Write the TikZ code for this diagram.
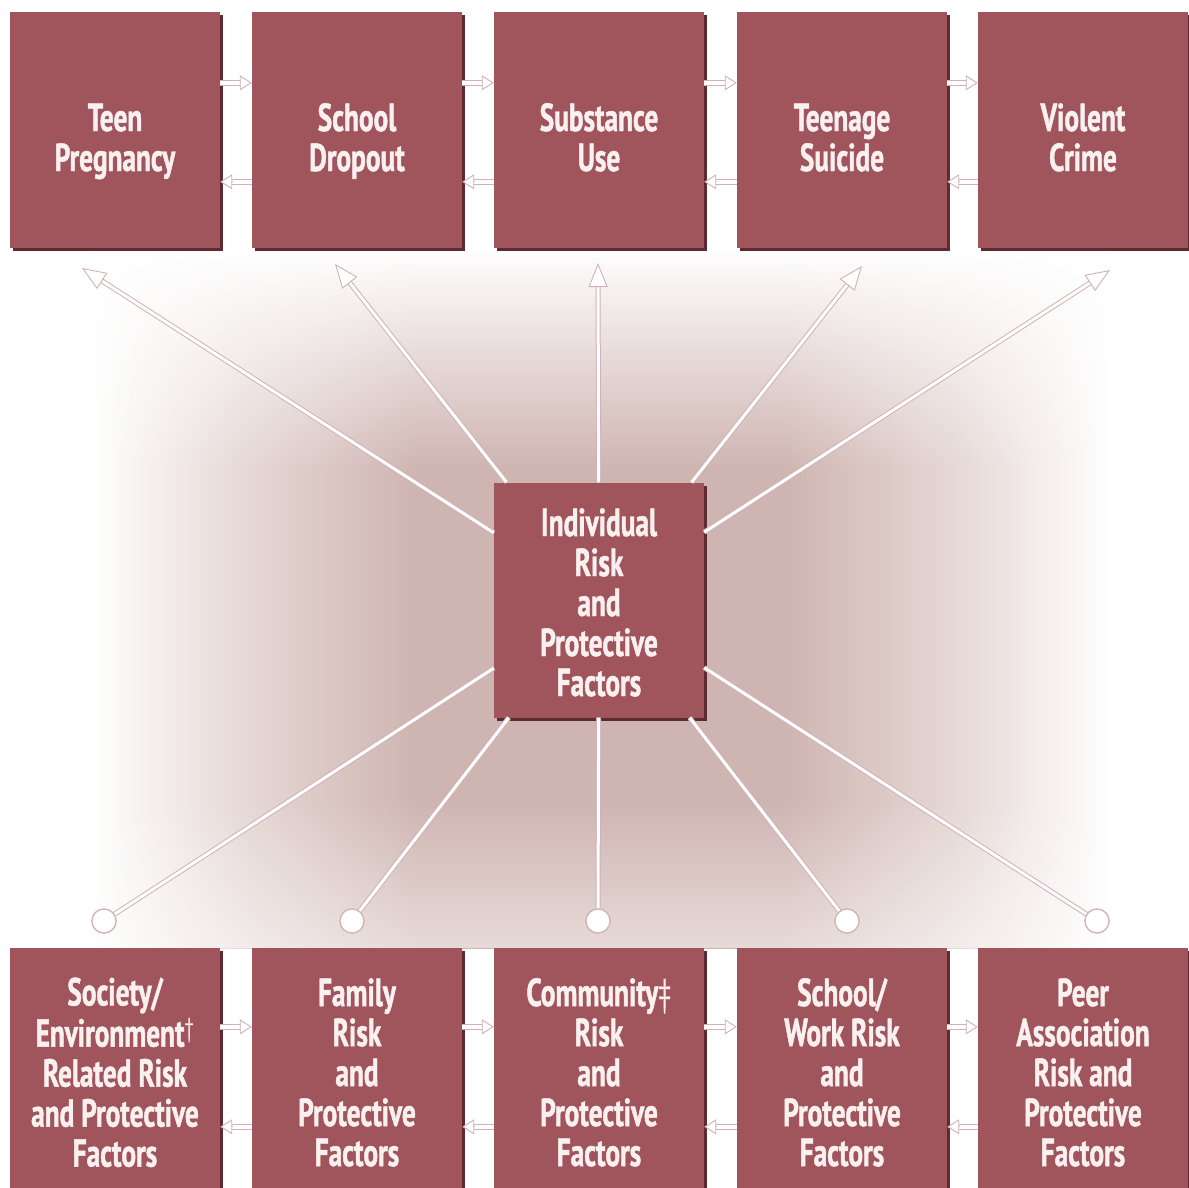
\documentclass[tikz,border=0pt]{standalone}
\usepackage{fontspec}
\newfontfamily\boxfont[FakeStretch=0.70, BoldFeatures={FakeBold=1.2}]{PT Sans}
\usetikzlibrary{arrows.meta,calc,shadows,fadings}
\definecolor{boxc}{RGB}{160,84,92}
\definecolor{shadc}{RGB}{92,42,48}
\definecolor{txtc}{RGB}{250,240,240}
\definecolor{edgec}{RGB}{208,178,182}
\definecolor{glowc}{RGB}{207,181,177}
\definecolor{glowm}{RGB}{229,215,212}
\pgfdeclarehorizontalshading{hglow}{100bp}{color(0bp)=(white); color(28.8bp)=(white); color(35.5bp)=(glowm); color(42.5bp)=(glowc); color(58bp)=(glowc); color(65bp)=(glowm); color(71.7bp)=(white); color(100bp)=(white)}
\newcommand{\warrow}[5]{%
  \draw[wline, shorten >=#5] #1 -- #2;
  \draw[edgec, line width=0.9pt, -{Triangle[length=#3, width=#4, fill=white]}] ($#2!#3!#1$) -- #2;
}
\begin{document}
\begin{tikzpicture}[x=1pt,y=-1pt,
  box/.style={rectangle, fill=boxc, minimum width=210pt, inner sep=0pt,
    general shadow={fill=shadc, shadow xshift=3pt, shadow yshift=-3pt}},
  lbl/.style={inner sep=0pt, text=txtc, align=center,
    font=\boxfont\bfseries\fontsize{39}{40}\selectfont},
  topbox/.style={box, minimum height=236pt},
  botbox/.style={box, minimum height=240pt},
  wline/.style={white, line width=3pt, preaction={draw=edgec, line width=5pt}},
  sline/.style={white, line width=4pt, preaction={draw=edgec, line width=6pt}},
  dot/.style={circle, draw=edgec, fill=white, line width=1.2pt, minimum size=24pt, inner sep=0pt}]
\useasboundingbox (0,0) rectangle (1189,1187);
\fill[white] (0,0) rectangle (1189,1187);
\shade[shading=hglow] (0,250) rectangle (1189,948);
\fill[white, path fading=south] (0,248) rectangle (1189,470);
\fill[white, opacity=0.5, path fading=north] (0,800) rectangle (1189,948);

% top row
\node[topbox] (tp) at (115,130) {};
\node[topbox] (sd) at (357,130) {};
\node[topbox] (su) at (599,130) {};
\node[topbox] (ts) at (842,130) {};
\node[topbox] (vc) at (1083,130) {};
\node[lbl] (tpt) at ([yshift=-13pt]tp.center) {\strut Teen\\\strut Pregnancy};
\node[lbl] (sdt) at ([yshift=-13pt]sd.center) {\strut School\\\strut Dropout};
\node[lbl] (sut) at ([yshift=-13pt]su.center) {\strut Substance\\\strut Use};
\node[lbl] (tst) at ([yshift=-13pt]ts.center) {\strut Teenage\\\strut Suicide};
\node[lbl] (vct) at ([yshift=-13pt]vc.center) {\strut Violent\\\strut Crime};

% centre
\node[box, minimum height=235pt] (ind) at (599,600) {};
\node[lbl] (indt) at ([yshift=-8pt]ind.center) {\strut Individual\\\strut Risk\\\strut and\\\strut Protective\\\strut Factors};

% bottom row
\node[botbox] (so) at (115,1068) {};
\node[botbox] (fa) at (357,1068) {};
\node[botbox] (co) at (599,1068) {};
\node[botbox] (sw) at (842,1068) {};
\node[botbox] (pa) at (1083,1068) {};
\node[lbl] (sot) at ([yshift=-10pt]so.center) {\strut Society/\\\strut Environment\textsuperscript{\mdseries †}\\\strut Related Risk\\\strut and Protective\\\strut Factors};
\node[lbl] (fat) at ([yshift=-10pt]fa.center) {\strut Family\\\strut Risk\\\strut and\\\strut Protective\\\strut Factors};
\node[lbl] (cot) at ([yshift=-10pt]co.center) {\strut Community{\mdseries ‡}\\\strut Risk\\\strut and\\\strut Protective\\\strut Factors};
\node[lbl] (swt) at ([yshift=-10pt]sw.center) {\strut School/\\\strut Work Risk\\\strut and\\\strut Protective\\\strut Factors};
\node[lbl] (pat) at ([yshift=-10pt]pa.center) {\strut Peer\\\strut Association\\\strut Risk and\\\strut Protective\\\strut Factors};

% radial arrow tips
\coordinate (t1) at (82,268);
\coordinate (t2) at (335,264);
\coordinate (t3) at (598,263);
\coordinate (t4) at (862,266);
\coordinate (t5) at (1110,270);
\warrow{(ind)}{(t1)}{24pt}{19pt}{20pt}
\warrow{(ind)}{(t2)}{24pt}{19pt}{20pt}
\warrow{(ind)}{(t3)}{24pt}{19pt}{20pt}
\warrow{(ind)}{(t4)}{24pt}{19pt}{20pt}
\warrow{(ind)}{(t5)}{24pt}{19pt}{20pt}

% bottom circles
\node[dot] (c1) at (104,921) {};
\node[dot] (c2) at (352,921) {};
\node[dot] (c3) at (598,921) {};
\node[dot] (c4) at (847,921) {};
\node[dot] (c5) at (1097,921) {};
\foreach \c in {c1,c2,c3,c4,c5} {\draw[wline] (ind) -- (\c);}
\foreach \c in {c1,c2,c3,c4,c5} {\node[dot] at (\c) {};}

% small arrows between neighbouring boxes
\newcommand{\sarrow}[2]{%
  \draw[sline, shorten >=10pt] #1 -- #2;
  \draw[edgec, line width=0.9pt, -{Triangle[length=12pt, width=15pt, fill=white]}] ($#2!12pt!#1$) -- #2;
}
\foreach \a/\b in {tp/sd, sd/su, su/ts, ts/vc} {
  \sarrow{([yshift=-71pt]\a.north east)}{([yshift=-71pt]\b.north west)}
  \sarrow{([yshift=-170pt]\b.north west)}{([yshift=-170pt]\a.north east)}
}
\foreach \a/\b in {so/fa, fa/co, co/sw, sw/pa} {
  \sarrow{([yshift=-79pt]\a.north east)}{([yshift=-79pt]\b.north west)}
  \sarrow{([yshift=-179pt]\b.north west)}{([yshift=-179pt]\a.north east)}
}
\end{tikzpicture}
\end{document}
